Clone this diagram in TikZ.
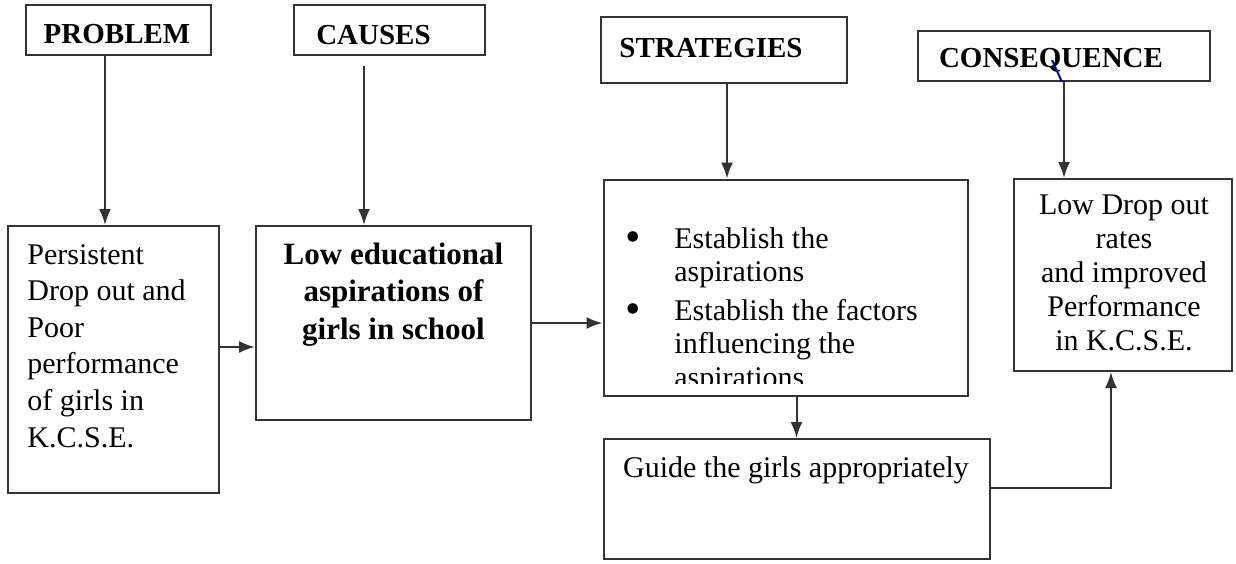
\documentclass[tikz,border=0pt]{standalone}
\usepackage{fontspec}
\setmainfont{Liberation Serif}
\usetikzlibrary{arrows.meta,positioning}

\tikzset{
  box/.style={draw=black!80,line width=1pt,inner sep=0pt},
  arr/.style={draw=black!80,line width=1pt,-{Latex[length=8pt,width=6pt]}},
  head/.style={font=\fontsize{14.5}{17}\selectfont\bfseries,inner sep=0pt,anchor=base},
  body/.style={font=\fontsize{15}{18.3}\selectfont,inner sep=0pt}
}
\newcommand\bigdot{\llap{\raisebox{-1.5pt}{\fontsize{22}{0}\selectfont\textbullet}\hspace{17pt}}}

\begin{document}
\begin{tikzpicture}[x=0.5pt,y=-0.5pt]
  \useasboundingbox (0,0) rectangle (1236,563);

  % headings along the top
  \node[box,minimum width=92.5pt,minimum height=25pt] (prob) at (118.5,30) {};
  \node[box,minimum width=95.5pt,minimum height=25pt] (cause) at (389.5,30) {};
  \node[box,minimum width=123pt,minimum height=33pt] (strat) at (724,50) {};
  \node[box,minimum width=146pt,minimum height=25pt] (conseq) at (1064,56) {};
  \node[head] (probtxt) at (117,43) {PROBLEM};
  \node[head] (causetxt) at (373.5,44) {CAUSES};
  \node[head] (strattxt) at (711,57) {STRATEGIES};
  \node[head] (conseqtxt) at (1051,67) {CONSEQUENCE};

  % main boxes
  \node[box,minimum width=105.5pt,minimum height=133.5pt] (persist) at (113.5,359.5) {};
  \node[box,minimum width=137.5pt,minimum height=97pt] (lowedu) at (393.5,323) {};
  \node[box,minimum width=182pt,minimum height=108pt] (strbox) at (785.5,287.5) {};
  \node[box,minimum width=109pt,minimum height=96pt] (lowdrop) at (1123,275) {};
  \node[box,minimum width=193pt,minimum height=60pt] (guide) at (796.5,499) {};

  % multi-line texts sit on their last baseline
  \node[body,anchor=base west,align=left] (persisttxt) at (27,447)
    {Persistent\\Drop out and\\Poor\\performance\\of girls in\\K.C.S.E.};
  \node[body,anchor=base,align=center,font=\fontsize{15.5}{18.7}\selectfont\bfseries]
    (lowedutxt) at (393.5,339) {Low educational\\aspirations of\\girls in school};
  \node[body,anchor=base,align=center,font=\fontsize{15}{17}\selectfont]
    (lowdroptxt) at (1124,350) {Low Drop out\\rates\\and improved\\Performance\\in K.C.S.E.};
  \node[body,anchor=base] (guidetxt) at (796,477) {Guide the girls appropriately};

  % bullet list, cut off at the bottom edge
  \begin{scope}
    \clip (strbox.north west) rectangle ([yshift=6.5pt]strbox.south east);
    \node[body,anchor=base west,align=left,font=\fontsize{15}{16.6}\selectfont]
      (strtxt) at (674,387)
      {\bigdot Establish the\\aspirations\\[3pt]
       \bigdot Establish the factors\\influencing the\\aspirations};
  \end{scope}

  % connectors
  \draw[arr] ([xshift=-6.75pt]prob.south) -- ([xshift=-6.75pt]prob.south |- persist.north);
  \draw[arr] ([xshift=-12.75pt,yshift=-5pt]cause.south) -- ([xshift=-12.75pt]cause.south |- lowedu.north);
  \draw[arr] ([xshift=1.5pt]strat.south) -- ([xshift=1.5pt]strat.south |- strbox.north);
  \draw[arr] (conseq.south) -- (conseq.south |- lowdrop.north);
  \draw[arr] ([yshift=6.25pt]persist.east) -- ([yshift=6.25pt]persist.east -| lowedu.west);
  \draw[arr] (lowedu.east) -- (lowedu.east -| strbox.west);
  \draw[arr] (guide.north |- strbox.south) -- (guide.north);
  \draw[arr] ([yshift=5.5pt]guide.east) -| ([xshift=-6pt]lowdrop.south);

  % pen stroke over the Q
  \draw[blue!70!black,line width=1pt] ([xshift=-6pt,yshift=-2pt]conseq.center) -- ([xshift=-1pt]conseq.south);
\end{tikzpicture}
\end{document}
